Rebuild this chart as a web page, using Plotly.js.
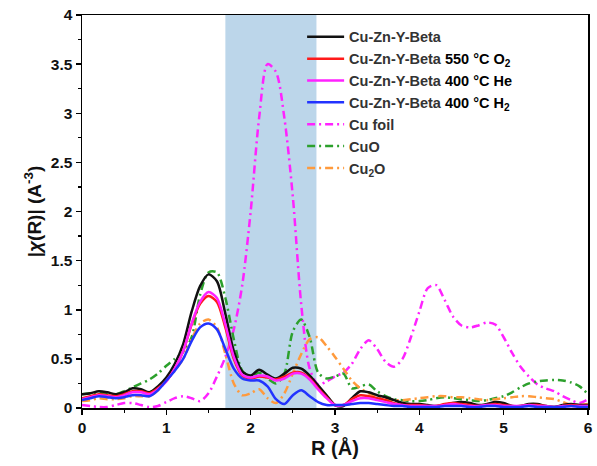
<!DOCTYPE html>
<html>
<head>
<meta charset="utf-8">
<script src="https://cdn.plot.ly/plotly-3.0.1.min.js"></script>
<style>html,body{margin:0;padding:0;background:#fff;}#chart{width:597px;height:466px;}</style>
</head>
<body>
<div id="chart"></div>
<script>
// R grid (Å)
const R = [0,0.1,0.2,0.3,0.4,0.5,0.6,0.7,0.8,0.9,1.0,1.1,1.2,1.3,1.4,1.5,1.6,1.7,1.8,1.9,2.0,2.1,2.2,2.3,2.4,2.5,2.6,2.7,2.8,2.9,3.0,3.1,3.2,3.3,3.4,3.5,3.6,3.7,3.8,3.9,4.0,4.1,4.2,4.3,4.4,4.5,4.6,4.7,4.8,4.9,5.0,5.1,5.2,5.3,5.4,5.5,5.6,5.7,5.8,5.9,6.0];

const fresh = [0.14,0.15,0.17,0.16,0.14,0.16,0.20,0.19,0.16,0.22,0.31,0.45,0.65,0.98,1.24,1.36,1.29,0.96,0.58,0.37,0.33,0.39,0.34,0.30,0.35,0.41,0.40,0.33,0.23,0.13,0.03,0.02,0.10,0.17,0.16,0.13,0.11,0.08,0.05,0.04,0.04,0.03,0.02,0.03,0.05,0.06,0.05,0.03,0.04,0.06,0.05,0.02,0.02,0.04,0.04,0.02,0.01,0.03,0.04,0.03,0.03];

const o2_550 = [0.10,0.12,0.14,0.13,0.12,0.14,0.17,0.17,0.15,0.20,0.28,0.40,0.58,0.85,1.06,1.14,1.08,0.82,0.50,0.33,0.30,0.32,0.31,0.29,0.32,0.36,0.36,0.30,0.20,0.11,0.03,0.03,0.09,0.13,0.12,0.10,0.08,0.05,0.03,0.03,0.03,0.02,0.02,0.04,0.05,0.04,0.03,0.02,0.03,0.04,0.03,0.02,0.02,0.03,0.03,0.02,0.01,0.02,0.03,0.02,0.02];

const he_400 = [0.09,0.11,0.13,0.12,0.11,0.13,0.16,0.16,0.14,0.19,0.27,0.40,0.58,0.86,1.08,1.18,1.12,0.85,0.52,0.34,0.31,0.33,0.32,0.28,0.30,0.35,0.35,0.29,0.19,0.10,0.03,0.03,0.07,0.10,0.10,0.08,0.06,0.04,0.03,0.02,0.02,0.02,0.02,0.03,0.04,0.03,0.02,0.02,0.03,0.03,0.02,0.02,0.02,0.03,0.02,0.02,0.01,0.02,0.02,0.02,0.02];

const h2_400 = [0.08,0.10,0.12,0.11,0.10,0.11,0.13,0.13,0.12,0.18,0.28,0.38,0.50,0.68,0.82,0.86,0.80,0.60,0.40,0.30,0.28,0.28,0.22,0.09,0.04,0.13,0.18,0.12,0.06,0.03,0.03,0.03,0.04,0.05,0.05,0.04,0.03,0.02,0.02,0.01,0.01,0.01,0.01,0.02,0.02,0.02,0.01,0.01,0.02,0.02,0.01,0.01,0.01,0.02,0.01,0.01,0.01,0.01,0.02,0.01,0.01];

const cuFoil = [0.03,0.02,0.01,0.01,0.03,0.05,0.05,0.03,0.01,0.02,0.06,0.10,0.12,0.10,0.07,0.15,0.32,0.52,0.80,1.25,2.00,2.95,3.50,3.42,2.95,2.15,1.05,0.40,0.24,0.27,0.32,0.36,0.45,0.60,0.69,0.60,0.47,0.42,0.50,0.72,0.98,1.22,1.25,1.10,0.93,0.84,0.82,0.84,0.87,0.85,0.72,0.56,0.42,0.32,0.24,0.20,0.17,0.12,0.08,0.05,0.09];

const cuO = [0.14,0.15,0.16,0.14,0.14,0.17,0.21,0.25,0.29,0.35,0.43,0.50,0.57,0.72,1.15,1.38,1.38,1.12,0.70,0.38,0.32,0.36,0.30,0.25,0.35,0.78,0.90,0.72,0.36,0.30,0.32,0.35,0.20,0.22,0.24,0.17,0.12,0.09,0.08,0.07,0.07,0.08,0.10,0.11,0.10,0.09,0.08,0.07,0.08,0.10,0.12,0.16,0.21,0.25,0.27,0.28,0.285,0.28,0.26,0.22,0.14];

const cu2O = [0.07,0.08,0.10,0.09,0.09,0.10,0.12,0.12,0.12,0.18,0.28,0.38,0.50,0.70,0.86,0.90,0.82,0.55,0.25,0.13,0.15,0.19,0.10,0.05,0.15,0.35,0.55,0.70,0.72,0.63,0.52,0.40,0.28,0.20,0.15,0.12,0.09,0.08,0.08,0.09,0.10,0.11,0.12,0.12,0.11,0.11,0.10,0.09,0.08,0.09,0.10,0.11,0.12,0.12,0.11,0.10,0.09,0.06,0.03,0.03,0.04];

const seriesNames = [
  "<span style='color:#333'>Cu-Zn-Y-Beta</span>",
  "<span style='color:#333'>Cu-Zn-Y-Beta</span> 550 °C O<sub>2</sub>",
  "<span style='color:#333'>Cu-Zn-Y-Beta</span> 400 °C He",
  "<span style='color:#333'>Cu-Zn-Y-Beta</span> 400 °C H<sub>2</sub>",
  "<span style='color:#333'>Cu foil</span>",
  "<span style='color:#333'>CuO</span>",
  "<span style='color:#333'>Cu<sub>2</sub>O</span>"
];
const shadedRegion = [1.7, 2.78];

const dd = "8px,4px,2px,4px";
function tr(y, name, color, dash, rank) {
  return {x: R, y: y, name: name, type: 'scatter', mode: 'lines', legendrank: rank,
    line: {color: color, width: 2.5, dash: dash, shape: 'spline', smoothing: 0.8}};
}
const traces = [
  tr(cuFoil, seriesNames[4], '#ff22ff', dd, 5),
  tr(cuO, seriesNames[5], '#2ca02c', dd, 6),
  tr(cu2O, seriesNames[6], '#ff9a3c', dd, 7),
  tr(fresh, seriesNames[0], '#111111', 'solid', 1),
  tr(o2_550, seriesNames[1], '#ff1a1a', 'solid', 2),
  tr(he_400, seriesNames[2], '#ff22ff', 'solid', 3),
  tr(h2_400, seriesNames[3], '#2233ff', 'solid', 4)
];

const fontFam = 'Arial, "Liberation Sans", sans-serif';
const layout = {
  width: 597, height: 466,
  margin: {l: 82, r: 9, t: 15, b: 58},
  paper_bgcolor: '#fff', plot_bgcolor: '#fff',
  font: {family: fontFam, color: '#111', size: 15, weight: 'bold'},
  showlegend: true,
  legend: {x: 0.435, y: 0.985, xanchor: 'left', yanchor: 'top', bgcolor: 'rgba(0,0,0,0)',
    itemwidth: 37,
    font: {family: fontFam, size: 14.5, color: '#000', weight: 'bold'}, tracegroupgap: 0, traceorder: 'normal'},
  xaxis: {range: [0, 6], dtick: 1, tick0: 0, showgrid: false, zeroline: false,
    showline: true, linecolor: '#000', linewidth: 1.5, mirror: true,
    ticks: 'outside', ticklen: 5, tickwidth: 1.5, tickcolor: '#000',
    minor: {dtick: 0.5, ticks: 'outside', ticklen: 3, tickwidth: 1.2, tickcolor: '#000', showgrid: false},
    tickfont: {family: fontFam, size: 15.5, weight: 'bold', color: '#111'},
    title: {text: 'R (Å)', font: {family: fontFam, size: 20, weight: 'bold', color: '#111'}, standoff: 6}},
  yaxis: {range: [0, 4], dtick: 0.5, tick0: 0, showgrid: false, zeroline: false,
    showline: true, linecolor: '#000', linewidth: 1.5, mirror: true,
    ticks: 'outside', ticklen: 5, tickwidth: 1.5, tickcolor: '#000',
    minor: {dtick: 0.25, ticks: 'outside', ticklen: 3, tickwidth: 1.2, tickcolor: '#000', showgrid: false},
    tickfont: {family: fontFam, size: 15.5, weight: 'bold', color: '#111'},
    title: {text: '|<i>χ</i>(R)| (A<sup>-3</sup>)', font: {family: fontFam, size: 19, weight: 'bold', color: '#111'}, standoff: 4}},
  shapes: [{type: 'rect', xref: 'x', yref: 'paper', x0: shadedRegion[0], x1: shadedRegion[1], y0: 0, y1: 1,
    fillcolor: '#bcd6ea', line: {width: 0}, layer: 'below'}]
};
Plotly.newPlot('chart', traces, layout, {displayModeBar: false, staticPlot: true});
</script>
</body>
</html>
